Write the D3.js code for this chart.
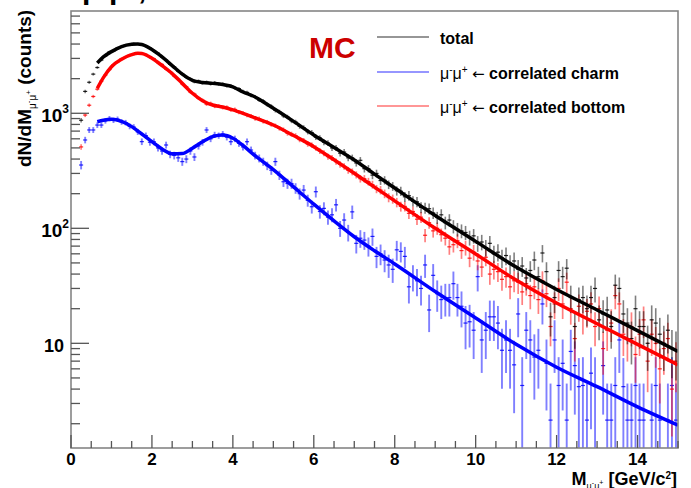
<!DOCTYPE html>
<html>
<head>
<meta charset="utf-8">
<script src="https://cdn.jsdelivr.net/npm/d3@7"></script>
<style>
  body { margin: 0; background: #fff; }
  svg { display: block; font-family: "Liberation Sans", Arial, Helvetica, sans-serif; }
</style>
</head>
<body>
<div id="chart"></div>
<script>
// histogram binning: 0.1 GeV/c^2 bins, first bin centre 0.25
var firstBin = 0.25, binWidth = 0.1, nBins = 148;

// MC histogram contents (counts per bin), null = empty bin
var totalCounts = [
  870, 1550, 1860, 2190, 2500,
  2900, 3150, 3420, 3480, 3700, 3780, 3920, 3950, 4050, 3990,
  3980, 3820, 3690, 3480, 3330, 3080, 2900, 2660, 2530, 2320,
  2200, 2050, 1990, 1880, 1910, 1830, 1870, 1800, 1850, 1790,
  1800, 1730, 1740, 1660, 1640, 1550, 1520, 1430, 1390, 1300,
  1280, 1190, 1150, 1060, 1030, 950, 930, 860, 840, 770,
  750, 690, 680, 620, 610, 560, 550, 500, 500, 450,
  460, 410, 410, 370, 390, 330, 330, 290, 300, 260,
  262, 240, 232, 212, 210, 188, 192, 172, 170, 152,
  150, 148, 136, 124, 131, 112, 118, 104, 98, 95,
  92, 83, 86, 74, 76, 68, 74, 60, 62, 55,
  58, 49, 52, 44, 47, 37, 43, 53, 38, 61,
  42, 17, 25, 43, 38, 45, 25, 14, 24, 25,
  20, 25, 30, 16, 18, 19.5, 14, 32, 30, 18,
  15, 11, 20, 14, 14, 10, 16, 15, 12, 10,
  13, 9, 8.7
];
var charmCounts = [
  355, 586, 716, 716, 790,
  790, 860, 900, 870, 890, 840, 830, 770, 760, 690,
  567, 640, 560, 565, 500, 470, 530, 440, 430, 410,
  380, 400, 470, 417, 520, 560, 716, 600, 650, 640,
  660, 620, 566, 600, 548, 510, 566, 479, 430, 406,
  380, 350, 320, 380, 290, 254, 245, 245, 223, 200,
  215, 175, 154, 208, 140, 149, 125, 131, 160, 100,
  118, 92, 139, 74, 82, 79, 70, 85, 57, 60,
  53, 48, 44, 65, 63, 57, 31, 38, 35, 30,
  48, 19.5, 39, 27, 24, 25, 25, 33, 25, 21,
  15, 15.4, 13, 38, 10.7, 13, 17, 17, 15, 8.7,
  10.7, 8.7, 6.5, 18, 4.3, 13, 10.7, 7.6, 8.7, 22,
  6.7, 2.15, 10.7, 4.3, 6.7, 2.15, 8.5, 6.4, 4.2, 4.3,
  2.15, 5.5, 4.3, null, 6.4, 2.15, 2.15, 4.3, 10.7, 4.2,
  2.15, 2.15, 4.3, 2.15, 2.15, null, 2.15, 4.3, 2.15, null,
  2.15, 4.3, 2.15
];
var bottomCounts = [
  510, 965, 1175, 1400, 1620,
  1900, 2150, 2400, 2650, 2800, 2980, 3070, 3230, 3250, 3340,
  3280, 3250, 3060, 2980, 2760, 2660, 2420, 2300, 2110, 1980,
  1800, 1700, 1530, 1470, 1350, 1300, 1200, 1220, 1150, 1160,
  1120, 1130, 1070, 1080, 1020, 1010, 960, 950, 900, 900,
  850, 840, 800, 780, 740, 720, 670, 660, 640, 590,
  580, 540, 530, 500, 470, 450, 420, 410, 380, 360,
  345, 320, 310, 292, 270, 270, 255, 240, 220, 215,
  200, 185, 180, 168, 155, 155, 135, 140, 120, 125,
  87, 112, 95, 100, 88, 82, 69, 72, 78, 64,
  68, 55, 62, 52, 46, 56, 40, 44, 42, 36,
  38, 31, 35, 34, 28, 33, 26, 31, 24, 35,
  27, 14, 22, 30, 22, 34, 20, 11, 21, 17,
  19, 22, 14, 20, 9, 13, 15, 26, 22, 12,
  11, 14, 8, 12, 16, 7, 12, 10, 6, 9,
  11, 4, 7
];
// event weight per series (sets error bar size: err = sqrt(w*N))
var weights = { total: 1.8, charm: 2.5, bottom: 1.5 };

// fitted curves, sampled at these masses
var fitMass = [0.65, 0.8, 1.0, 1.25, 1.5, 1.65, 1.75, 2.0, 2.25, 2.5, 2.75, 3.0, 3.25, 3.5, 3.75, 4.0,
               4.25, 4.5, 5, 5.5, 6, 6.5, 7, 7.5, 8, 9, 10, 11, 12, 13, 14, 15];
var totalFit = [2735, 3090, 3436, 3802, 3981, 4009, 3963, 3589, 3090, 2600, 2188, 1936, 1854, 1820, 1778, 1698,
                1531, 1413, 1104, 851, 647, 504, 393, 296, 224, 129, 77, 46, 29.4, 19.5, 12.9, 8.5];
var charmFit = [845, 871, 887, 851, 766, 701, 661, 566, 490, 444, 447, 497, 565, 627, 646, 607,
                525, 442, 324, 229, 162, 116, 84.5, 63.8, 49, 28.2, 16.6, 9.8, 6.2, 4.2, 2.8, 1.94];
var bottomFit = [1648, 2042, 2541, 2951, 3236, 3327, 3311, 3006, 2600, 2213, 1820, 1493, 1288, 1180, 1135, 1072,
                 1000, 927, 791, 640, 513, 394, 301, 228, 173, 100, 59.7, 35.5, 22.4, 14.8, 9.8, 6.5];

var xTickLabels = ["0", "2", "4", "6", "8", "10", "12", "14"];
var legendNames = ["total", "correlated charm", "correlated bottom"];
var colors = { total: "#000000", charm: "#0000ff", bottom: "#ff0000" };

(function () {
    var W = 691, H = 488;
    var left = 71, right = 678, top = 11, bottom = 448;

    var svg = d3.select("#chart").append("svg").attr("width", W).attr("height", H);

    var x = d3.scaleLinear().domain([0, 15]).range([left, right]);
    var y = d3.scaleLog().domain([1.23, 7750]).range([bottom, top]);

    var binCenters = d3.range(nBins).map(function (i) { return +(firstBin + i * binWidth).toFixed(2); });

    // title, cut off by the top edge in the original
    var ttl = svg.append("text").attr("y", -1).attr("font-size", 30).attr("font-weight", "bold");
    ttl.append("tspan").attr("x", 82).text("p");
    ttl.append("tspan").attr("x", 100).text("-");
    ttl.append("tspan").attr("x", 109).text("p");
    ttl.append("tspan").attr("x", 138).text(",");

    svg.append("clipPath").attr("id", "clip")
        .append("rect").attr("x", left).attr("y", top).attr("width", right - left).attr("height", bottom - top);

    var plot = svg.append("g").attr("clip-path", "url(#clip)");

    function drawPoints(values, color, w, ew) {
        var pts = binCenters.map(function (m, i) { return { m: m, v: values[i] }; })
            .filter(function (d) { return d.v > 0; });
        var g = plot.append("g");
        g.selectAll("line.ey").data(pts).join("line").attr("class", "ey")
            .attr("x1", function (d) { return x(d.m); })
            .attr("x2", function (d) { return x(d.m); })
            .attr("y1", function (d) { return y(d.v + Math.sqrt(w * d.v)); })
            .attr("y2", function (d) {
                var lo = d.v - Math.sqrt(w * d.v);
                return lo > y.domain()[0] ? y(lo) : bottom + 10;
            })
            .attr("stroke", color).attr("stroke-opacity", 0.5).attr("stroke-width", ew);
        g.selectAll("line.ex").data(pts).join("line").attr("class", "ex")
            .attr("x1", function (d) { return x(d.m - binWidth / 2); })
            .attr("x2", function (d) { return x(d.m + binWidth / 2); })
            .attr("y1", function (d) { return y(d.v); })
            .attr("y2", function (d) { return y(d.v); })
            .attr("stroke", color).attr("stroke-opacity", 0.85).attr("stroke-width", 1.2);
    }
    drawPoints(charmCounts, colors.charm, weights.charm, 1.9);
    drawPoints(bottomCounts, colors.bottom, weights.bottom, 1.7);
    drawPoints(totalCounts, colors.total, weights.total, 1.6);

    var line = d3.line()
        .x(function (d) { return x(d[0]); })
        .y(function (d) { return y(d[1]); })
        .curve(d3.curveMonotoneX);

    [[charmFit, colors.charm], [bottomFit, colors.bottom], [totalFit, colors.total]].forEach(function (s) {
        plot.append("path")
            .attr("d", line(fitMass.map(function (m, i) { return [m, s[0][i]]; })))
            .attr("fill", "none").attr("stroke", s[1]).attr("stroke-width", 3.5);
    });

    // frame
    svg.append("rect").attr("x", left).attr("y", top).attr("width", right - left).attr("height", bottom - top)
        .attr("fill", "none").attr("stroke", "#858585").attr("stroke-width", 1.6);

    // y ticks (left side, pointing in)
    var yTicks = y.ticks().filter(function (v) { return v >= y.domain()[0] && v <= y.domain()[1]; });
    var isMajor = function (v) { return Math.abs(Math.log10(v) - Math.round(Math.log10(v))) < 1e-9; };
    svg.append("g").selectAll("line").data(yTicks).join("line")
        .attr("x1", left).attr("x2", function (v) { return left + (isMajor(v) ? 18 : 9); })
        .attr("y1", function (v) { return y(v); }).attr("y2", function (v) { return y(v); })
        .attr("stroke", "#555").attr("stroke-width", 1.3);

    var yLab = svg.append("g").attr("font-weight", "bold").attr("fill", "#000");
    yTicks.filter(isMajor).forEach(function (v) {
        var p = Math.round(Math.log10(v));
        if (p === 1) {
            yLab.append("text").attr("x", 64).attr("y", y(v) + 8.5).attr("text-anchor", "end")
                .attr("font-size", 18).text("10");
        } else {
            var t = yLab.append("text").attr("x", 69).attr("y", y(v) + 8.5).attr("text-anchor", "end")
                .attr("font-size", 19);
            t.append("tspan").text("10");
            t.append("tspan").attr("font-size", 12).attr("dy", -9).text(p);
        }
    });

    // x ticks (bottom, pointing up)
    var xTicks = x.ticks(30);
    svg.append("g").selectAll("line").data(xTicks).join("line")
        .attr("x1", function (v) { return x(v); }).attr("x2", function (v) { return x(v); })
        .attr("y1", bottom).attr("y2", function (v) { return bottom - (v % 2 === 0 ? 13 : 7); })
        .attr("stroke", "#555").attr("stroke-width", 1.3);
    svg.append("g").selectAll("text").data(xTickLabels).join("text")
        .attr("x", function (d) { return x(+d); }).attr("y", 465)
        .attr("text-anchor", "middle").attr("font-size", 17).attr("font-weight", "bold")
        .text(function (d) { return d; });

    // axis titles
    var xt = svg.append("text").attr("x", 677).attr("y", 485).attr("text-anchor", "end")
        .attr("font-size", 18).attr("font-weight", "bold");
    xt.append("tspan").text("M");
    xt.append("tspan").attr("font-size", 9).attr("font-weight", "normal").attr("dy", 4).text("μ");
    xt.append("tspan").attr("font-size", 7).attr("font-weight", "normal").attr("dy", -4).text("-");
    xt.append("tspan").attr("font-size", 9).attr("font-weight", "normal").attr("dy", 4).text("μ");
    xt.append("tspan").attr("font-size", 7).attr("font-weight", "normal").attr("dy", -4).text("+");
    xt.append("tspan").attr("dy", 0).text(" [GeV/c");
    xt.append("tspan").attr("font-size", 10).attr("dy", -6).text("2");
    xt.append("tspan").attr("dy", 6).text("]");

    var yt = svg.append("text").attr("transform", "translate(31,167) rotate(-90)")
        .attr("font-size", 19).attr("font-weight", "bold");
    yt.append("tspan").text("dN/dM");
    yt.append("tspan").attr("font-size", 10).attr("font-weight", "normal").attr("dy", 5).text("μ");
    yt.append("tspan").attr("font-size", 8).attr("font-weight", "normal").attr("dy", -5).text("-");
    yt.append("tspan").attr("font-size", 10).attr("font-weight", "normal").attr("dy", 5).text("μ");
    yt.append("tspan").attr("font-size", 8).attr("font-weight", "normal").attr("dy", -5).text("+");
    yt.append("tspan").attr("dy", 0).text(" (counts)");

    // legend
    svg.append("text").attr("x", 309).attr("y", 58).attr("font-size", 30).attr("font-weight", "bold")
        .attr("fill", "#cc0000").text("MC");

    var legY = [37, 72, 106];
    var legColors = [colors.total, colors.charm, colors.bottom];
    var leg = svg.append("g");
    leg.selectAll("line").data(legendNames).join("line")
        .attr("x1", 377).attr("x2", 429)
        .attr("y1", function (d, i) { return legY[i]; }).attr("y2", function (d, i) { return legY[i]; })
        .attr("stroke", function (d, i) { return legColors[i]; })
        .attr("stroke-opacity", 0.55).attr("stroke-width", 1.5);
    legendNames.forEach(function (name, i) {
        var t = leg.append("text").attr("x", 440).attr("y", legY[i] + 7).attr("font-size", 16);
        if (i > 0) {
            t.append("tspan").text("μ");
            t.append("tspan").attr("font-size", 10).attr("dy", -6).text("-");
            t.append("tspan").attr("dy", 6).text("μ");
            t.append("tspan").attr("font-size", 10).attr("dy", -6).text("+");
            t.append("tspan").attr("dy", 6).text(" ");
            t.append("tspan").attr("font-family", "DejaVu Sans").attr("font-size", 15).text("←");
            t.append("tspan").text(" ");
        }
        t.append("tspan").attr("font-weight", "bold").text(name);
    });
})();
</script>
</body>
</html>
